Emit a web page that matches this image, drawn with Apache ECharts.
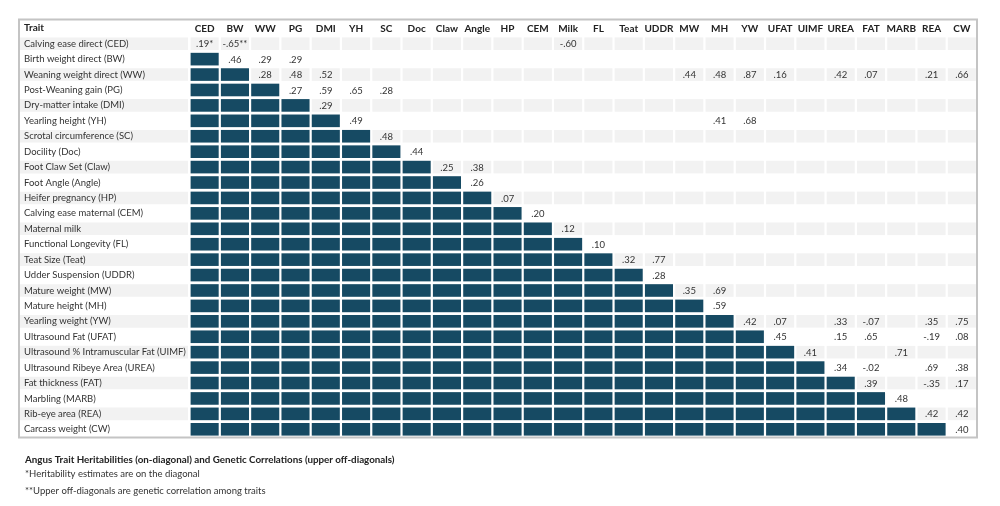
<!DOCTYPE html>
<html>
<head>
<meta charset="utf-8">
<script src="https://cdn.jsdelivr.net/npm/echarts@6/dist/echarts.min.js"></script>
<style>
  html, body { margin: 0; padding: 0; background: #fff; }
  #main { width: 1000px; height: 506px; }
</style>
</head>
<body>
<div id="main"></div>
<script>
// trait codes (column headers) and row labels
const traitCodes = ['CED', 'BW', 'WW', 'PG', 'DMI', 'YH', 'SC', 'Doc', 'Claw', 'Angle', 'HP', 'CEM', 'Milk',
  'FL', 'Teat', 'UDDR', 'MW', 'MH', 'YW', 'UFAT', 'UIMF', 'UREA', 'FAT', 'MARB', 'REA', 'CW'];
const traitNames = [
  'Calving ease direct (CED)', 'Birth weight direct (BW)', 'Weaning weight direct (WW)',
  'Post-Weaning gain (PG)', 'Dry-matter intake (DMI)', 'Yearling height (YH)',
  'Scrotal circumference (SC)', 'Docility (Doc)', 'Foot Claw Set (Claw)', 'Foot Angle (Angle)',
  'Heifer pregnancy (HP)', 'Calving ease maternal (CEM)', 'Maternal milk', 'Functional Longevity (FL)',
  'Teat Size (Teat)', 'Udder Suspension (UDDR)', 'Mature weight (MW)', 'Mature height (MH)',
  'Yearling weight (YW)', 'Ultrasound Fat (UFAT)', 'Ultrasound % Intramuscular Fat (UIMF)',
  'Ultrasound Ribeye Area (UREA)', 'Fat thickness (FAT)', 'Marbling (MARB)', 'Rib-eye area (REA)',
  'Carcass weight (CW)'];
// heritabilities on the diagonal
const heritability = ['.19*', '.46', '.28', '.27', '.29', '.49', '.48', '.44', '.25', '.26', '.07', '.20', '.12',
  '.10', '.32', '.28', '.35', '.59', '.42', '.45', '.41', '.34', '.39', '.48', '.42', '.40'];
// genetic correlations (upper off-diagonal): [row, column, value]
const correlations = [
  ['CED', 'BW', '-.65**'], ['CED', 'Milk', '-.60'],
  ['BW', 'WW', '.29'], ['BW', 'PG', '.29'],
  ['WW', 'PG', '.48'], ['WW', 'DMI', '.52'], ['WW', 'MW', '.44'], ['WW', 'MH', '.48'], ['WW', 'YW', '.87'],
  ['WW', 'UFAT', '.16'], ['WW', 'UREA', '.42'], ['WW', 'FAT', '.07'], ['WW', 'REA', '.21'], ['WW', 'CW', '.66'],
  ['PG', 'DMI', '.59'], ['PG', 'YH', '.65'], ['PG', 'SC', '.28'],
  ['YH', 'MH', '.41'], ['YH', 'YW', '.68'],
  ['Claw', 'Angle', '.38'],
  ['Teat', 'UDDR', '.77'],
  ['MW', 'MH', '.69'],
  ['YW', 'UFAT', '.07'], ['YW', 'UREA', '.33'], ['YW', 'FAT', '-.07'], ['YW', 'REA', '.35'], ['YW', 'CW', '.75'],
  ['UFAT', 'UREA', '.15'], ['UFAT', 'FAT', '.65'], ['UFAT', 'REA', '-.19'], ['UFAT', 'CW', '.08'],
  ['UIMF', 'MARB', '.71'],
  ['UREA', 'FAT', '-.02'], ['UREA', 'REA', '.69'], ['UREA', 'CW', '.38'],
  ['FAT', 'REA', '-.35'], ['FAT', 'CW', '.17'],
  ['REA', 'CW', '.42']
];
const headerText = 'Trait';
const notes = [
  'Angus Trait Heritabilities (on-diagonal) and Genetic Correlations (upper off-diagonals)',
  '*Heritability estimates are on the diagonal',
  '**Upper off-diagonals are genetic correlation among traits'
];

const teal = '#164a63';
const band = '#f2f2f2';
const font = 'Lato';

// build cells: lower triangle filled, diagonal + upper banded on even rows
const n = traitCodes.length;
const cells = [];
for (let r = 0; r < n; r++) {
  for (let c = 0; c < n; c++) {
    let text = '';
    if (c === r) text = heritability[r];
    let kind = c < r ? 'fill' : (r % 2 === 0 ? 'band' : 'none');
    cells.push({ value: [c, r], kind: kind, text: text });
  }
}
correlations.forEach(function (d) {
  const r = traitCodes.indexOf(d[0]);
  const c = traitCodes.indexOf(d[1]);
  cells[r * n + c].text = d[2];
});
const rowBands = traitNames.map(function (name, i) { return [0, i]; });

function renderCell(params, api) {
  const cell = cells[params.dataIndex];
  const p = api.coord([api.value(0), api.value(1)]);
  const s = api.size([1, 1]);
  const w = s[0] - 2.2, h = s[1] - 2.8;
  const children = [];
  if (cell.kind !== 'none') {
    children.push({
      type: 'rect',
      shape: { x: p[0] - w / 2, y: p[1] - h / 2, width: w, height: h },
      style: { fill: cell.kind === 'fill' ? teal : band }
    });
  }
  if (cell.text) {
    children.push({
      type: 'text',
      style: {
        text: cell.text, x: p[0], y: p[1] + 0.5, align: 'center', verticalAlign: 'middle',
        fill: '#333', fontSize: 9.5, fontFamily: font
      }
    });
  }
  return { type: 'group', children: children };
}

function renderRowBand(params, api) {
  const row = api.value(1);
  if (row % 2 !== 0) return null;
  const p0 = api.coord([0, row]);
  const p1 = api.coord([1, row]);
  const s = api.size([1, 1]);
  const h = s[1] - 2.8;
  return {
    type: 'rect',
    shape: { x: p0[0], y: p0[1] - h / 2, width: p1[0] - p0[0] - 1, height: h },
    style: { fill: band }
  };
}

const chart = echarts.init(document.getElementById('main'), null, { renderer: 'canvas' });
chart.setOption({
  animation: false,
  backgroundColor: '#fff',
  textStyle: { fontFamily: font },
  title: [
    { text: headerText, left: 24, top: 23, padding: 0,
      textStyle: { fontSize: 10, fontWeight: 'bold', color: '#222', fontFamily: font } },
    { text: notes[0], left: 25, top: 455, padding: 0,
      textStyle: { fontSize: 9.8, fontWeight: 'bold', color: '#222', fontFamily: font } },
    { text: notes[1], left: 25, top: 469, padding: 0,
      textStyle: { fontSize: 9.5, fontWeight: 'normal', color: '#333', fontFamily: font } },
    { text: notes[2], left: 25, top: 486, padding: 0,
      textStyle: { fontSize: 9.5, fontWeight: 'normal', color: '#333', fontFamily: font } }
  ],
  grid: [
    { left: 20, top: 36, width: 169, height: 401, containLabel: false },
    { left: 189.5, top: 36, width: 787.5, height: 401, containLabel: false },
    { left: 19, top: 19.5, width: 958, height: 418, show: true, borderColor: '#c4c4c4', borderWidth: 2,
      backgroundColor: 'transparent' }
  ],
  xAxis: [
    { gridIndex: 0, type: 'value', min: 0, max: 1, show: false },
    { gridIndex: 1, type: 'category', data: traitCodes, position: 'top',
      axisLine: { show: false }, axisTick: { show: false }, splitLine: { show: false },
      axisLabel: { interval: 0, margin: 2, fontSize: 10, fontWeight: 'bold', color: '#222', fontFamily: font } },
    { gridIndex: 2, type: 'value', show: false }
  ],
  yAxis: [
    { gridIndex: 0, type: 'category', data: traitNames, inverse: true,
      axisLine: { show: false }, axisTick: { show: false }, splitLine: { show: false },
      axisLabel: { inside: true, align: 'left', margin: 4, interval: 0, fontSize: 9.5, color: '#333', fontFamily: font },
      z: 5 },
    { gridIndex: 1, type: 'category', data: traitCodes, inverse: true, show: false },
    { gridIndex: 2, type: 'value', show: false }
  ],
  series: [
    {
      type: 'custom', name: 'rows', xAxisIndex: 0, yAxisIndex: 0,
      renderItem: renderRowBand, data: rowBands, silent: true, z: 1
    },
    {
      type: 'custom', name: 'matrix', xAxisIndex: 1, yAxisIndex: 1,
      renderItem: renderCell, data: cells.map(function (c) { return c.value; }), silent: true, z: 2
    }
  ]
});
window.addEventListener('resize', chart.resize);
</script>
</body>
</html>
